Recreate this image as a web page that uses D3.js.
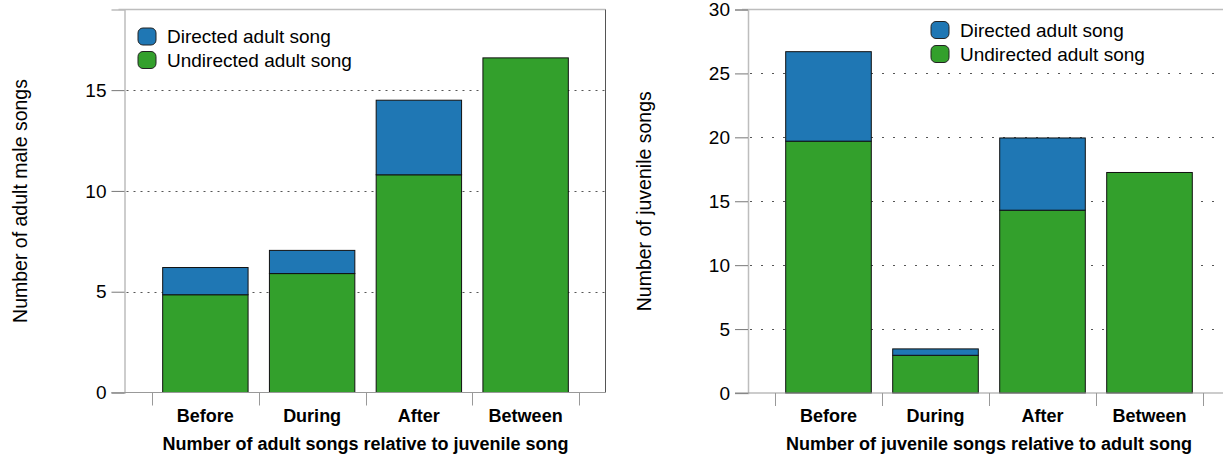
<!DOCTYPE html>
<html>
<head>
<meta charset="utf-8">
<script src="https://cdn.jsdelivr.net/npm/d3@7"></script>
<style>
  html, body { margin: 0; padding: 0; background: #fff; }
  svg { display: block; font-family: "Liberation Sans", Arial, sans-serif; }
</style>
</head>
<body>
<svg id="chart" width="1223" height="461"></svg>
<script>
// ---- data ----
const categories = ["Before", "During", "After", "Between"];
const seriesNames = ["Undirected adult song", "Directed adult song"];
const legendLabels = ["Directed adult song", "Undirected adult song"];

// left panel: number of adult male songs
const adultUndirected = [4.85, 5.9, 10.8, 16.6];
const adultDirected   = [1.35, 1.15, 3.7, 0];

// right panel: number of juvenile songs
const juvUndirected = [19.7, 2.95, 14.3, 17.25];
const juvDirected   = [7.0, 0.5, 5.65, 0];

const leftTicks  = [0, 5, 10, 15];
const rightTicks = [0, 5, 10, 15, 20, 25, 30];

const colors = { "Directed adult song": "#1f77b4", "Undirected adult song": "#33a02c" };

const svg = d3.select("#chart");

function panel(cfg) {
  const g = svg.append("g");
  const x = d3.scaleBand().domain(categories).range(cfg.xRange)
      .paddingInner(0.2).paddingOuter(0.1);
  const y = d3.scaleLinear().domain(cfg.yDomain).range(cfg.yRange);

  const rows = categories.map((c, i) => ({
    cat: c,
    "Undirected adult song": cfg.undirected[i],
    "Directed adult song": cfg.directed[i]
  }));
  const stacked = d3.stack().keys(seriesNames)(rows);

  const x0 = cfg.xRange[0], x1 = cfg.frameRight;
  const yTop = y(cfg.yDomain[1]), yBot = y(0);

  // gridlines (behind bars)
  g.append("g").selectAll("line")
    .data(cfg.ticks.filter(t => t > 0 && t < cfg.yDomain[1]))
    .join("line")
    .attr("x1", cfg.axisX + 2).attr("x2", x1)
    .attr("y1", d => Math.round(y(d)) + 0.5).attr("y2", d => Math.round(y(d)) + 0.5)
    .attr("stroke", "#555").attr("stroke-width", 1)
    .attr("stroke-dasharray", cfg.dash);

  // bars
  stacked.forEach(s => {
    g.append("g").selectAll("rect")
      .data(s.filter(d => d[1] - d[0] > 0))
      .join("rect")
      .attr("x", d => x(d.data.cat))
      .attr("width", x.bandwidth())
      .attr("y", d => y(d[1]))
      .attr("height", d => y(d[0]) - y(d[1]))
      .attr("fill", colors[s.key])
      .attr("stroke", "#111")
      .attr("stroke-width", 1);
  });

  // frame: top and right
  g.append("line").attr("x1", cfg.axisX - 6).attr("x2", x1)
    .attr("y1", yTop).attr("y2", yTop)
    .attr("stroke", "#bdbdbd").attr("stroke-width", 1.5);
  if (cfg.showRight) {
    g.append("line").attr("x1", x1).attr("x2", x1)
      .attr("y1", yTop).attr("y2", yBot)
      .attr("stroke", "#555").attr("stroke-width", 1);
  }

  // y axis
  const yMinor = d3.range(cfg.yDomain[0], cfg.yDomain[1] + 1, 1);
  const ya = g.append("g").attr("transform", `translate(${cfg.axisX},0)`);
  ya.call(d3.axisLeft(y).tickValues(yMinor).tickSize(6).tickFormat(""));
  ya.call(d3.axisLeft(y).tickValues(cfg.ticks).tickSize(13).tickPadding(5).tickFormat(d3.format("d")));
  ya.selectAll(".domain").attr("stroke", "#bdbdbd").attr("stroke-width", 1.5);
  ya.selectAll(".tick line").attr("stroke", "#777");
  ya.selectAll(".tick text").attr("font-size", 19).attr("fill", "#000")
    .attr("font-family", "Liberation Sans, Arial, sans-serif");

  // x baseline
  g.append("line").attr("x1", cfg.axisX - 13).attr("x2", x1)
    .attr("y1", yBot).attr("y2", yBot)
    .attr("stroke", "#999").attr("stroke-width", 1);

  // category separators
  const half = (x.step() - x.bandwidth()) / 2;
  const seps = categories.map(c => x(c) - half)
    .concat([x(categories[categories.length - 1]) + x.bandwidth() + half]);
  g.append("g").selectAll("line").data(seps).join("line")
    .attr("x1", d => Math.round(d) + 0.5).attr("x2", d => Math.round(d) + 0.5)
    .attr("y1", yBot).attr("y2", yBot + 13)
    .attr("stroke", "#999").attr("stroke-width", 1);

  // category labels
  g.append("g").selectAll("text").data(categories).join("text")
    .attr("x", d => x(d) + x.bandwidth() / 2)
    .attr("y", 422)
    .attr("text-anchor", "middle")
    .attr("font-size", 18).attr("font-weight", "bold")
    .text(d => d);

  // x title
  g.append("text")
    .attr("x", (cfg.xRange[0] + cfg.xRange[1]) / 2)
    .attr("y", 450)
    .attr("text-anchor", "middle")
    .attr("font-size", 18).attr("font-weight", "bold")
    .text(cfg.xTitle);

  // y title
  g.append("text")
    .attr("transform", `translate(${cfg.yTitleX},${(yTop + yBot) / 2}) rotate(-90)`)
    .attr("text-anchor", "middle")
    .attr("font-size", 19.5)
    .text(cfg.yTitle);

  // legend
  const lg = g.append("g");
  legendLabels.forEach((name, i) => {
    const ly = cfg.legend.y + i * cfg.legend.dy;
    lg.append("rect")
      .attr("x", cfg.legend.x).attr("y", ly)
      .attr("width", 18).attr("height", 17)
      .attr("rx", 5).attr("ry", 5)
      .attr("fill", colors[name]).attr("stroke", "#222").attr("stroke-width", 1);
    lg.append("text")
      .attr("x", cfg.legend.x + 29).attr("y", ly + 15)
      .attr("font-size", 19)
      .text(name);
  });
}

panel({
  xRange: [152, 579], frameRight: 605.5, showRight: true,
  yDomain: [0, 19], yRange: [392.5, 9.5],
  axisX: 124.5, ticks: leftTicks, dash: "2,5",
  undirected: adultUndirected, directed: adultDirected,
  xTitle: "Number of adult songs relative to juvenile song",
  yTitle: "Number of adult male songs", yTitleX: 27,
  legend: { x: 138, y: 28, dy: 23.5 }
});

panel({
  xRange: [775, 1203], frameRight: 1223, showRight: false,
  yDomain: [0, 30], yRange: [393, 9.5],
  axisX: 748, ticks: rightTicks, dash: "2,9",
  undirected: juvUndirected, directed: juvDirected,
  xTitle: "Number of juvenile songs relative to adult song",
  yTitle: "Number of juvenile songs", yTitleX: 651,
  legend: { x: 931, y: 21.5, dy: 24 }
});
</script>
</body>
</html>
